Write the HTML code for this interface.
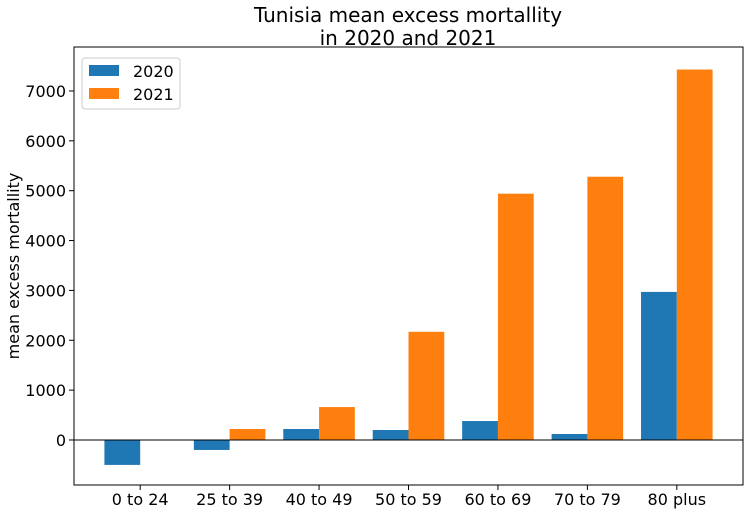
<!DOCTYPE html>
<html><head><meta charset="utf-8"><style>
body{margin:0;background:#fff;}
svg{display:block;font-family:"DejaVu Sans","Liberation Sans",sans-serif;}
</style></head><body>
<svg id="chart" width="750" height="514">
<text x="408" y="22" text-anchor="middle" font-size="20">Tunisia mean excess mortallity</text>
<text x="408" y="45" text-anchor="middle" font-size="20">in 2020 and 2021</text>
<text transform="translate(19,266) rotate(-90)" text-anchor="middle" font-size="16">mean excess mortallity</text>
<g id="marks"></g>
<rect x="74" y="47" width="669" height="438" fill="none" stroke="#000" stroke-width="1"/>
<g>
<rect x="82" y="58" width="98" height="51" rx="3" fill="#fff" stroke="#ccc"/>
<rect x="89" y="65" width="30" height="11" fill="#1f77b4"/>
<text x="133" y="77" font-size="16">2020</text>
<rect x="89" y="88" width="30" height="11" fill="#ff7f0e"/>
<text x="133" y="100" font-size="16">2021</text>
</g>
</svg>
<script>
const categories=["0 to 24","25 to 39","40 to 49","50 to 59","60 to 69","70 to 79","80 plus"];
const values2020=[-500,-200,220,200,380,120,2970];
const values2021=[0,220,660,2170,4940,5280,7430];
const yTicks=[0,1000,2000,3000,4000,5000,6000,7000];
const L=74,R=743,T=47,B=485,xmin=-0.74,xmax=6.74,ymin=-903,ymax=7882;
const xs=v=>L+(v-xmin)/(xmax-xmin)*(R-L);
const ys=v=>B-(v-ymin)/(ymax-ymin)*(B-T);
const NS="http://www.w3.org/2000/svg";
const g=document.getElementById('marks');
function mk(t,a){const e=document.createElementNS(NS,t);for(const k in a)e.setAttribute(k,a[k]);g.appendChild(e);return e;}
function bar(i,v,off,c,nm){
  const y0=ys(0),y1=ys(v);
  const e=mk('rect',{x:xs(i+off),y:Math.min(y0,y1),width:xs(0.4)-xs(0),height:Math.abs(y1-y0),fill:c});
  
  
}
categories.forEach((c,i)=>{
  bar(i,values2020[i],-0.4,'#1f77b4','bar-2020-'+i);
  bar(i,values2021[i],0,'#ff7f0e','bar-2021-'+i);
  const tk=mk('line',{x1:xs(i),x2:xs(i),y1:B,y2:B+5,stroke:'#000'});
  
  
  const t=mk('text',{x:xs(i),y:B+20,'text-anchor':'middle','font-size':16});
  t.textContent=c;
  
  
});
yTicks.forEach(v=>{
  const tk=mk('line',{x1:L-5,x2:L,y1:ys(v),y2:ys(v),stroke:'#000'});
  
  
  const t=mk('text',{x:L-8,y:ys(v)+6,'text-anchor':'end','font-size':16});
  t.textContent=v;
  
  
});
const z=mk('line',{x1:L,x2:R,y1:ys(0),y2:ys(0),stroke:'#000','stroke-width':1});


</script>
</body></html>
